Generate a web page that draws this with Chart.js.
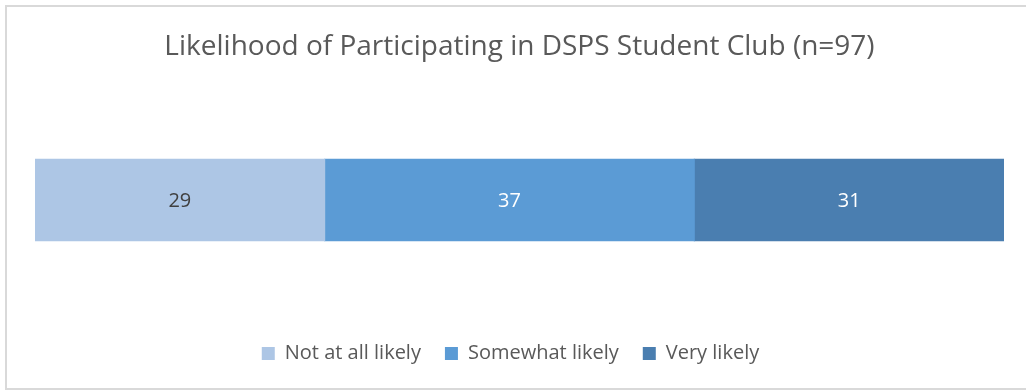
<!DOCTYPE html>
<html>
<head>
<meta charset="utf-8">
<script src="https://cdn.jsdelivr.net/npm/chart.js@4/dist/chart.umd.min.js"></script>
<style>
  html, body { margin: 0; padding: 0; background: #fff; }
  #wrap { width: 1026px; height: 391px; }
</style>
</head>
<body>
<div id="wrap"><canvas id="clubChart" width="1026" height="391"></canvas></div>
<script>
const categories = ['Responses'];
const seriesNames = ['Not at all likely', 'Somewhat likely', 'Very likely'];
const notLikely = [29];
const somewhatLikely = [37];
const veryLikely = [31];
const totalN = 97;

const fillColors = ['#ADC6E5', '#5B9BD5', '#4A7EB0'];
const labelColors = ['#404040', '#ffffff', '#ffffff'];
const fontFamily = '"Open Sans", "DejaVu Sans", sans-serif';

// value labels in the middle of each segment
const segmentLabels = {
    id: 'segmentLabels',
    afterDatasetsDraw(chart) {
        const ctx = chart.ctx;
        ctx.save();
        ctx.font = '20px ' + fontFamily;
        ctx.textAlign = 'center';
        ctx.textBaseline = 'middle';
        chart.data.datasets.forEach((ds, i) => {
            chart.getDatasetMeta(i).data.forEach((bar, j) => {
                const c = bar.getCenterPoint();
                ctx.fillStyle = labelColors[i];
                ctx.fillText(String(ds.data[j]), c.x, c.y + 1);
            });
        });
        ctx.restore();
    }
};

// thin grey frame round the chart
const chartFrame = {
    id: 'chartFrame',
    beforeDraw(chart) {
        const ctx = chart.ctx;
        ctx.save();
        ctx.strokeStyle = '#D9D9D9';
        ctx.lineWidth = 2;
        ctx.strokeRect(6, 6, 1030, 383);
        ctx.restore();
    }
};

// legend sits centred on the canvas rather than on the plot
const legendNudge = {
    id: 'legendNudge',
    afterLayout(chart) {
        chart.legend.left -= 9;
        chart.legend.right -= 9;
    }
};

const values = [notLikely, somewhatLikely, veryLikely];

new Chart(document.getElementById('clubChart').getContext('2d'), {
    type: 'bar',
    data: {
        labels: categories,
        datasets: seriesNames.map((name, i) => ({
            label: name,
            data: values[i],
            backgroundColor: fillColors[i],
            borderWidth: 0,
            inflateAmount: 0.5,
            barPercentage: 1,
            categoryPercentage: 0.3406
        }))
    },
    options: {
        indexAxis: 'y',
        responsive: false,
        animation: false,
        layout: { padding: { top: 6, bottom: 17.5, left: 35, right: 22 } },
        scales: {
            x: { stacked: true, min: 0, max: totalN, display: false },
            y: { stacked: true, display: false }
        },
        plugins: {
            tooltip: { enabled: false },
            title: {
                display: true,
                text: 'Likelihood of Participating in DSPS Student Club (n=97)',
                color: '#595959',
                font: { family: fontFamily, size: 28, weight: 'normal' },
                padding: { top: 24, bottom: 17 }
            },
            legend: {
                position: 'bottom',
                labels: {
                    color: '#595959',
                    font: { family: fontFamily, size: 20 },
                    boxWidth: 13,
                    boxHeight: 13,
                    padding: 24
                }
            }
        }
    },
    plugins: [chartFrame, legendNudge, segmentLabels]
});
</script>
</body>
</html>
